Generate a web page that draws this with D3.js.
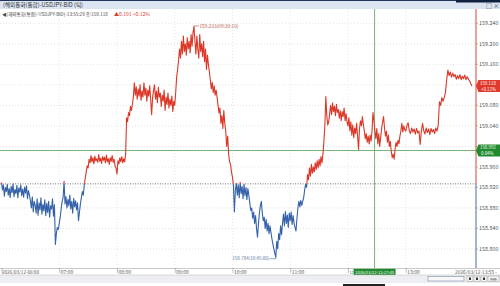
<!DOCTYPE html>
<html><head><meta charset="utf-8">
<script src="https://cdn.jsdelivr.net/npm/d3@7"></script>
<style>html,body{margin:0;padding:0;background:#fff;overflow:hidden}svg{display:block;font-family:"Noto Sans CJK KR","DejaVu Sans",sans-serif}</style>
</head><body>
<svg id="c" width="500" height="286"></svg>
<script>
// ---- data (USDJPY BID tick chart, 1-minute samples per hour) ----
const title = "(해외통화(통합)-USDJPY-BID (틱)";
const legendMain = "◀(해외통화(통합)-USDJPY-BID)-13:55:29 종:159.118";
const legendChange = "▲0.191  +0.12%";
const prevClose = 158.927;
const lastPrice = 159.118, lastPct = "+0.12%";
const crossPrice = 158.992, crossPct = "0.04%", crossTime = "2026/03/12-12:27:40";
const highLabel = "159.233(09:20:10)";
const lowLabel = "158.784(10:45:00)";
const yTicks = [158.80,158.84,158.88,158.92,158.96,159.00,159.04,159.08,159.12,159.16,159.20,159.24];
const xTickLabels = ["2026/03/12-06:00","07:00","08:00","09:00","10:00","11:00","12","13:00"];
const endLabel = "2026/03/12-13:55";

const h06 = [158.930,158.915,158.925,158.903,158.920,158.912,158.926,158.905,158.918,158.900,158.922,158.910,158.927,158.902,158.916,158.908,158.924,158.900,158.919,158.911,158.925,158.904,158.917,158.901,158.921,158.909,158.923,158.898,158.914,158.905,
  158.895,158.880,158.902,158.872,158.893,158.885,158.870,158.898,158.866,158.890,158.876,158.900,158.868,158.887,158.874,158.896,158.865,158.889,158.871,158.893,158.862,158.884,158.878,158.898,158.864,158.886,
  158.809,158.830,158.842,158.838];
const h07 = [158.850,158.862,158.878,158.893,158.900,158.932,
  158.888,158.902,158.880,158.897,158.884,158.905,158.878,158.893,158.870,158.899,158.882,158.894,158.876,158.890,158.855,
  158.872,158.888,158.900,158.912,158.905,158.925,158.938,158.950,158.962,158.958,
  158.975,158.968,158.982,158.970,158.978,158.966,158.981,158.972,158.976,158.969,158.984,158.971,158.977,158.967,158.980,158.973,158.979,158.968,158.983,158.970,158.976,158.965,158.978,158.971,158.982,158.969,158.975,158.962,158.958];
const h08 = [158.946,158.972,158.966,158.978,158.970,158.980,158.968,158.976,158.970,158.985,
  159.056,159.048,159.066,159.060,159.078,159.070,159.082,159.095,
  159.124,159.100,159.116,159.092,159.112,159.098,159.120,159.090,159.108,159.096,159.124,159.100,159.114,159.088,159.110,159.098,159.118,159.092,
  159.062,
  159.095,159.110,159.120,159.092,159.108,159.085,159.115,159.096,159.104,159.078,159.100,159.088,159.110,159.070,159.096,159.082,159.104,159.075,159.092,159.080,159.098,159.068,159.088];
const h09 = [159.080,159.105,159.135,159.150,159.168,
  159.190,159.172,159.205,159.180,159.215,159.185,159.200,159.178,159.212,159.190,159.205,159.182,159.218,159.195,159.222,
  159.233,
  159.205,159.180,159.215,159.190,159.172,159.218,159.185,159.200,159.175,159.205,
  159.165,159.190,159.150,159.178,159.160,
  159.145,159.130,159.112,159.125,159.105,159.118,159.100,159.110,159.096,
  159.080,159.065,159.075,159.045,159.060,159.035,159.070,159.045,
  159.030,159.000,159.020,158.985,158.970,158.965,158.950];
const h10 = [158.940,158.925,158.872,
  158.915,158.928,158.905,158.925,158.900,158.930,158.908,158.922,158.898,158.926,158.904,158.920,158.896,158.918,158.905,
  158.890,158.875,158.880,158.860,158.872,158.850,158.865,158.840,158.823,158.850,158.870,158.885,158.893,
  158.870,158.855,158.862,158.840,158.858,158.835,158.850,158.830,158.845,158.832,
  158.820,158.810,158.800,158.792,158.784,
  158.815,158.800,158.830,158.818,158.845,158.828,
  158.850,158.868,158.845,158.873,158.850,158.866,158.842,158.870];
const h11 = [158.855,158.872,158.848,158.865,158.850,158.842,158.835,
  158.860,158.880,158.893,158.882,158.895,158.885,158.893,158.900,158.915,158.926,158.920,
  158.945,158.935,158.958,158.942,158.965,158.948,158.960,
  158.950,158.968,158.955,158.972,158.958,158.975,158.962,158.980,158.968,158.985,
  159.010,159.040,159.097,159.060,159.042,159.048,159.065,
  159.080,159.062,159.085,159.068,159.078,159.060,159.082,159.066,
  159.072,159.055,159.070,159.050,159.068,159.058,159.075,159.050,159.064,159.048];
const h12 = [159.040,159.056,159.030,159.048,159.022,159.042,159.017,159.036,159.025,159.045,159.020,158.994,
  159.035,159.050,159.040,159.058,159.042,159.030,
  159.015,159.025,159.008,159.020,159.005,159.022,159.010,159.030,159.066,159.050,
  159.030,159.015,159.035,159.005,159.025,159.000,159.018,159.035,159.048,159.058,
  159.035,159.020,159.030,159.008,159.022,159.000,159.010,
  158.990,158.978,158.985,158.975,
  158.995,159.008,159.000,159.012,159.005,159.020,
  159.030,159.045,159.028,159.040,159.032];
const h13 = [159.030,159.040,159.046,
  159.030,159.025,159.036,159.028,159.034,159.024,159.035,159.026,159.030,159.004,159.030,159.045,
  159.030,159.024,159.036,159.027,159.034,159.023,159.035,159.028,159.033,159.025,159.036,159.030,159.042,
  159.087,159.080,159.095,159.088,159.096,159.105,159.130,159.149,
  159.138,159.145,159.135,159.143,159.136,
  159.140,159.131,159.138,159.132,159.140,159.130,159.137,159.132,159.139,159.130,159.136,159.131,159.128,159.122];
const hours = [h06,h07,h08,h09,h10,h11,h12,h13];

// ---- build series ----
const T = (h,m,s=0) => new Date(2026,2,12,h,m,s);
const series = [];
hours.forEach((arr,hi) => arr.forEach((p,i) => series.push({t: T(6+hi, i), p})));
series.push({t: T(13,55), p: lastPrice});

const svg = d3.select("#c");
const W = 500, H = 286;
const plotL = 0, plotR = 476, plotT = 9, plotB = 268;

const x = d3.scaleTime().domain([T(6,0), T(13,0), T(13,55)]).range([1.5, 405.7, 472]);
const y = d3.scaleLinear().domain([158.80, 159.24]).range([249, 23.3]);

// shrink font so the text's real width fits a target width
function fit(sel, width, fs){
  sel.attr("font-size", fs);
  const len = sel.node().getComputedTextLength();
  if (len > width) sel.attr("font-size", fs*width/len);
  return sel;
}

// title bar
svg.append("rect").attr("x",0).attr("y",0).attr("width",W).attr("height",9).attr("fill","#dbe5f1");
svg.append("rect").attr("x",0).attr("y",0).attr("width",W).attr("height",1).attr("fill","#23355a");
svg.append("rect").attr("x",456).attr("y",0).attr("width",44).attr("height",2.5).attr("fill","#0f1f3f");
fit(svg.append("text").attr("x",3).attr("y",7).attr("fill","#333").text(title), 80, 5.8);
svg.append("text").attr("x",486).attr("y",7.5).attr("font-size",6).attr("fill","#333").text("□ ×");
svg.append("rect").attr("x",486).attr("y",9.5).attr("width",5).attr("height",4).attr("fill","none").attr("stroke","#888").attr("stroke-width",0.6);

// grid
const g = svg.append("g");
g.selectAll("line.hg").data(yTicks).join("line")
  .attr("x1",plotL).attr("x2",plotR).attr("y1",d=>y(d)).attr("y2",d=>y(d))
  .attr("stroke","#d4d4d4").attr("stroke-width",0.7).attr("stroke-dasharray","1,2");
const hourTicks = d3.range(0,8).map(i => T(6+i,0));
g.selectAll("line.vg").data(hourTicks.slice(1)).join("line")
  .attr("x1",d=>x(d)).attr("x2",d=>x(d)).attr("y1",plotT).attr("y2",plotB)
  .attr("stroke","#dcdcdc").attr("stroke-width",0.7).attr("stroke-dasharray","1,2");

// legend line
fit(svg.append("text").attr("x",2).attr("y",15.5).attr("fill","#444").text(legendMain), 106, 5.8);
fit(svg.append("text").attr("x",114).attr("y",15.5).attr("fill","#d83a2a").text(legendChange), 36, 5.8);

// baseline
const by = y(prevClose);
svg.append("line").attr("x1",plotL).attr("x2",plotR).attr("y1",by).attr("y2",by)
  .attr("stroke","#666").attr("stroke-width",0.9).attr("stroke-dasharray","1,1.5");

// crosshair
const crossT = T(12,27,40);
svg.append("line").attr("x1",plotL).attr("x2",plotR).attr("y1",y(crossPrice)).attr("y2",y(crossPrice))
  .attr("stroke","#6aab6a").attr("stroke-width",0.9);
svg.append("line").attr("x1",x(crossT)).attr("x2",x(crossT)).attr("y1",plotT).attr("y2",plotB)
  .attr("stroke","#6aab6a").attr("stroke-width",0.9);

// price line, split colour at baseline
const defs = svg.append("defs");
defs.append("clipPath").attr("id","above").append("rect").attr("x",0).attr("y",0).attr("width",plotR).attr("height",by);
defs.append("clipPath").attr("id","below").append("rect").attr("x",0).attr("y",by).attr("width",plotR).attr("height",H-by);
const line = d3.line().x(d=>x(d.t)).y(d=>y(d.p));
svg.append("path").datum(series).attr("d",line).attr("fill","none").attr("stroke","#dc3626")
  .attr("stroke-width",1.1).attr("stroke-linejoin","round").attr("clip-path","url(#above)");
svg.append("path").datum(series).attr("d",line).attr("fill","none").attr("stroke","#3561a8")
  .attr("stroke-width",1.1).attr("stroke-linejoin","round").attr("clip-path","url(#below)");

// high / low annotations
const hi = series.reduce((a,b)=> b.p>a.p?b:a);
const lo = series.reduce((a,b)=> b.p<a.p?b:a);
svg.append("path").attr("d",`M${x(hi.t)},${y(hi.p)+1}V${y(hi.p)-1}H${x(hi.t)+5}`).attr("fill","none").attr("stroke","#c04a40").attr("stroke-width",0.6);
fit(svg.append("text").attr("x",x(hi.t)+5.5).attr("y",y(hi.p)+1).attr("fill","#b55048").text(highLabel), 39, 5.2);
svg.append("path").attr("d",`M${x(lo.t)},${y(lo.p)-1}V${y(lo.p)+1.5}H${x(lo.t)-6}`).attr("fill","none").attr("stroke","#4a6aa8").attr("stroke-width",0.6);
fit(svg.append("text").attr("x",x(lo.t)-6.5).attr("y",y(lo.p)+3).attr("fill","#5a78a8").attr("text-anchor","end").text(lowLabel), 37, 5.2);

// right axis
svg.append("rect").attr("x",plotR).attr("y",plotT).attr("width",W-plotR).attr("height",plotB-plotT).attr("fill","#fff");
svg.append("line").attr("x1",plotR).attr("x2",plotR).attr("y1",plotT).attr("y2",by).attr("stroke","#d2483a").attr("stroke-width",1);
svg.append("line").attr("x1",plotR).attr("x2",plotR).attr("y1",by).attr("y2",plotB).attr("stroke","#4a6aa0").attr("stroke-width",1);
// labels hidden under the price boxes are not drawn
const visibleTicks = yTicks.filter(t => Math.abs(y(t)-y(lastPrice))>7 && Math.abs(y(t)-y(crossPrice))>7);
const ya = svg.append("g");
ya.selectAll("line").data(yTicks).join("line").attr("x1",plotR).attr("x2",plotR+2).attr("y1",d=>y(d)).attr("y2",d=>y(d)).attr("stroke","#888").attr("stroke-width",0.6);
ya.selectAll("text").data(visibleTicks).join("text").attr("x",plotR+3).attr("y",d=>y(d)+1.8).attr("fill","#555")
  .text(d=>d3.format(".3f")(d)).each(function(){ fit(d3.select(this), 19.5, 5.4); });

function priceBox(price, pct, fill){
  const cy = y(price);
  svg.append("path").attr("d",`M${plotR},${cy}L${plotR+2.5},${cy-6}H${W}V${cy+6}H${plotR+2.5}Z`).attr("fill",fill);
  fit(svg.append("text").attr("x",plotR+4).attr("y",cy-1.2).attr("fill","#fff").text(d3.format(".3f")(price)), 18, 4.4);
  fit(svg.append("text").attr("x",plotR+5).attr("y",cy+4.8).attr("fill","#fff").text(pct), 16, 4.4);
}
priceBox(lastPrice, lastPct, "#e0392b");
priceBox(crossPrice, crossPct, "#1f8a2e");

// x axis
svg.append("rect").attr("x",0).attr("y",plotB).attr("width",W).attr("height",H-plotB).attr("fill","#fff");
svg.append("line").attr("x1",0).attr("x2",W).attr("y1",plotB+0.5).attr("y2",plotB+0.5).attr("stroke","#bbb").attr("stroke-width",0.8);
const xa = svg.append("g");
xa.selectAll("line").data(hourTicks).join("line").attr("x1",d=>x(d)+0.5).attr("x2",d=>x(d)+0.5).attr("y1",plotB).attr("y2",plotB+5).attr("stroke","#999").attr("stroke-width",0.6);
xa.selectAll("text").data(hourTicks).join("text").attr("x",(d,i)=> i===0?2:x(d)+1.5).attr("y",plotB+5.5)
  .attr("fill","#555").text((d,i)=>xTickLabels[i])
  .each(function(d,i){ fit(d3.select(this), i===0?37:(i===6?4:12.5), 5.4); });
fit(svg.append("text").attr("x",497).attr("y",plotB+5.5).attr("fill","#555").attr("text-anchor","end").text(endLabel+" -"), 42, 5.4);
// crosshair time box
const cx = x(crossT);
svg.append("rect").attr("x",cx-21).attr("y",plotB+0.8).attr("width",42).attr("height",6.4).attr("fill","#1f8a2e");
fit(svg.append("text").attr("x",cx).attr("y",plotB+5.6).attr("fill","#fff").attr("text-anchor","middle").text(crossTime), 39, 5);

// scrollbar row
svg.append("rect").attr("x",0).attr("y",275).attr("width",W).attr("height",8).attr("fill","#eceef1");
svg.append("line").attr("x1",0).attr("x2",W).attr("y1",275).attr("y2",275).attr("stroke","#c8c8c8").attr("stroke-width",0.6);
svg.append("rect").attr("x",428).attr("y",276.5).attr("width",36).attr("height",4.5).attr("fill","#f8f8f8").attr("stroke","#7a8aa8").attr("stroke-width",0.6);
[467,474,481].forEach(bx=>{
  svg.append("rect").attr("x",bx).attr("y",276).attr("width",6).attr("height",5.5).attr("fill","#f4f4f4").attr("stroke","#999").attr("stroke-width",0.5);
  svg.append("rect").attr("x",bx+2).attr("y",277.5).attr("width",2).attr("height",2.5).attr("fill","#333");
});
svg.append("rect").attr("x",488).attr("y",276).attr("width",11).attr("height",5.5).attr("fill","#f4f4f4").attr("stroke","#999").attr("stroke-width",0.5);
svg.append("text").attr("x",493.5).attr("y",280.5).attr("font-size",3.8).attr("fill","#333").attr("text-anchor","middle").text("999");
svg.append("rect").attr("x",343).attr("y",284).attr("width",42).attr("height",2).attr("fill","#222");
</script>
</body></html>
